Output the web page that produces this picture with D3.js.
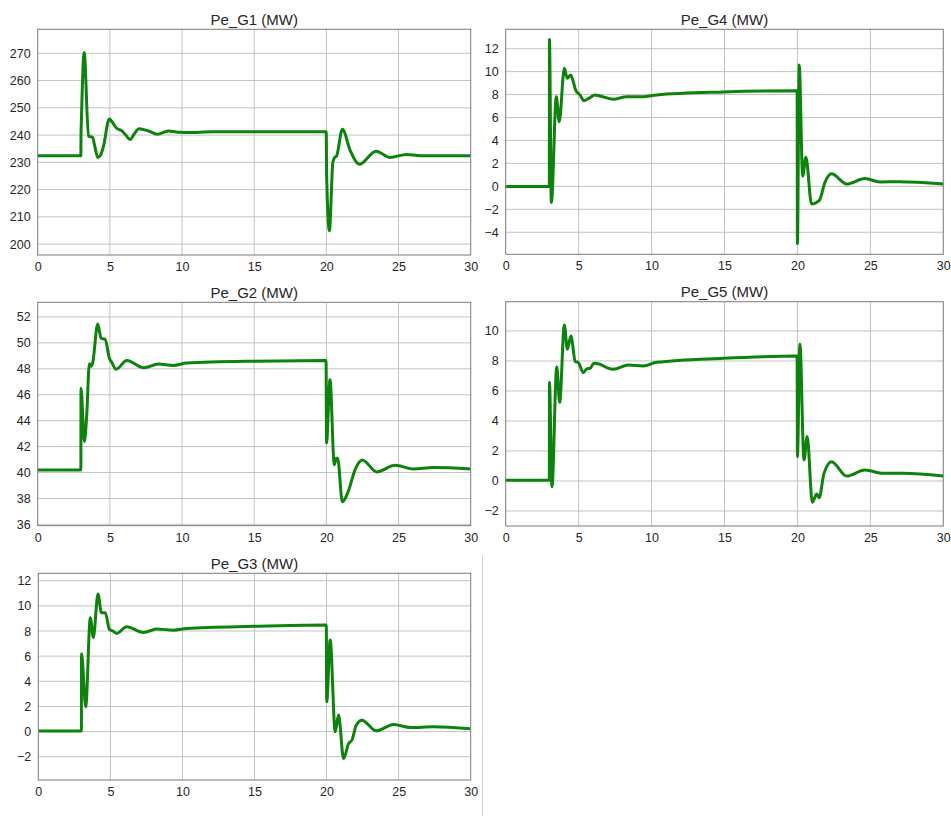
<!DOCTYPE html>
<html>
<head>
<meta charset="utf-8">
<script src="https://cdn.jsdelivr.net/npm/d3@7/dist/d3.min.js"></script>
<style>
  html, body { margin: 0; padding: 0; background: #ffffff; }
  svg { display: block; }
  text { font-family: "Liberation Sans", Arial, Helvetica, sans-serif; fill: #262626; }
</style>
</head>
<body>
<svg id="fig" width="951" height="816"></svg>
<script>
// Generator electrical power traces (MW) over a 30 s simulation
const titles = ["Pe_G1 (MW)", "Pe_G4 (MW)", "Pe_G2 (MW)", "Pe_G5 (MW)", "Pe_G3 (MW)"];
const xTicks = [0, 5, 10, 15, 20, 25, 30];

const tG1 = [0, 2.99, 3.0, 3.02, 3.22, 3.52, 3.8, 3.95, 4.16, 4.35, 4.55, 4.96, 5.2, 5.47, 5.82, 6.1, 6.4, 6.7, 7.02, 7.67, 8.29, 9.05, 9.86, 10.5, 12, 15, 19.99, 20.02, 20.21, 20.45, 20.55, 20.72, 21.11, 21.64, 22.29, 23.44, 24.41, 25.57, 26.5, 30];
const pG1 = [232.4, 232.4, 240, 244, 270.3, 239.6, 239.2, 236, 231.8, 232.6, 235.7, 245.9, 244.5, 242.5, 241.6, 240, 238.4, 240.5, 242.3, 241.5, 240.3, 241.5, 241.0, 240.9, 241.2, 241.2, 241.2, 225, 204.9, 230, 231.5, 232.5, 242.1, 234.5, 229.3, 234.1, 231.8, 232.9, 232.4, 232.4];
const yTicksG1 = [200, 210, 220, 230, 240, 250, 260, 270];

const tG4 = [0, 2.99, 3.0, 3.13, 3.47, 3.67, 4.02, 4.22, 4.45, 4.82, 5.09, 5.37, 5.78, 6.12, 6.46, 7.38, 8.29, 9.43, 10.35, 14.92, 19.98, 20.0, 20.12, 20.36, 20.58, 20.97, 21.49, 21.9, 22.34, 23.37, 24.63, 25.65, 27, 30];
const pG4 = [0, 0, 12.8, -1.41, 7.82, 5.64, 10.29, 9.42, 9.7, 8.34, 7.97, 7.47, 7.73, 7.97, 7.88, 7.59, 7.82, 7.82, 7.97, 8.23, 8.33, -5.0, 10.58, 0.91, 2.54, -1.53, -1.24, 0.4, 1.09, 0.21, 0.68, 0.39, 0.4, 0.21];
const yTicksG4 = [-4, -2, 0, 2, 4, 6, 8, 10, 12];

const tG2 = [0, 2.99, 3.0, 3.23, 3.4, 3.58, 3.7, 3.8, 4.16, 4.39, 4.67, 4.97, 5.13, 5.43, 6.17, 7.37, 8.36, 9.4, 10.32, 14.94, 19.98, 20.01, 20.25, 20.55, 20.68, 20.78, 21.11, 21.52, 21.99, 22.49, 23.49, 24.76, 26.03, 27.4, 30];
const pG2 = [40.2, 40.2, 46.5, 42.4, 44.5, 48.4, 48.2, 48.4, 51.46, 50.36, 50.28, 48.8, 48.5, 47.97, 48.64, 48.08, 48.38, 48.26, 48.44, 48.59, 48.64, 42.28, 47.15, 40.6, 41.1, 41.1, 37.74, 38.56, 40.23, 40.97, 40.05, 40.56, 40.28, 40.38, 40.28];
const yTicksG2 = [36, 38, 40, 42, 44, 46, 48, 50, 52];

const tG5 = [0, 2.99, 3.0, 3.17, 3.5, 3.7, 4.02, 4.23, 4.47, 4.77, 4.98, 5.32, 5.55, 5.78, 6.05, 6.46, 6.92, 7.38, 8.41, 9.43, 10.35, 14.92, 19.98, 20.0, 20.17, 20.45, 20.67, 21.02, 21.32, 21.49, 21.82, 22.34, 23.37, 24.63, 25.9, 27.25, 30];
const pG5 = [0.05, 0.05, 6.58, -0.38, 7.62, 5.24, 10.4, 8.78, 9.67, 7.96, 7.89, 7.22, 7.47, 7.51, 7.84, 7.78, 7.56, 7.44, 7.73, 7.67, 7.91, 8.18, 8.33, 1.62, 9.13, 1.4, 2.96, -1.42, -0.87, -1.11, 0.51, 1.29, 0.33, 0.73, 0.51, 0.51, 0.33];
const yTicksG5 = [-2, 0, 2, 4, 6, 8, 10];

const tG3 = [0, 2.99, 3.0, 3.29, 3.61, 3.82, 4.14, 4.38, 4.65, 4.93, 5.14, 5.44, 6.13, 7.29, 8.22, 9.38, 10.3, 14.93, 19.98, 20.01, 20.25, 20.6, 20.83, 21.18, 21.53, 21.76, 22.06, 22.45, 23.45, 24.65, 25.81, 27.43, 30];
const pG3 = [0.05, 0.05, 6.2, 1.97, 9.06, 7.49, 10.94, 9.45, 9.45, 8.13, 8.02, 7.81, 8.34, 7.89, 8.15, 8.07, 8.2, 8.37, 8.47, 2.37, 7.28, -0.02, 1.31, -2.14, -0.94, -0.68, 0.51, 0.91, 0.06, 0.57, 0.33, 0.38, 0.22];
const yTicksG3 = [-2, 0, 2, 4, 6, 8, 10, 12];

// Axes boxes (pixel frame) and y extents
const panels = [
  { title: titles[0], t: tG1, p: pG1, yTicks: yTicksG1, yDom: [196, 278.8], box: [37.7, 29.3, 470.7, 255] },
  { title: titles[1], t: tG4, p: pG4, yTicks: yTicksG4, yDom: [-5.92, 13.69], box: [505.7, 29.3, 943.3, 254.3] },
  { title: titles[2], t: tG2, p: pG2, yTicks: yTicksG2, yDom: [35.9, 53.13], box: [37.7, 302.3, 470.7, 525.7] },
  { title: titles[3], t: tG5, p: pG5, yTicks: yTicksG5, yDom: [-3, 11.95], box: [505.7, 301.7, 943.3, 526] },
  { title: titles[4], t: tG3, p: pG3, yTicks: yTicksG3, yDom: [-3.85, 12.59], box: [38.3, 573.3, 470.7, 780] }
];

const svg = d3.select("#fig");

// Edge of the unused sixth tile
svg.append("line")
  .attr("x1", 482.5).attr("x2", 482.5).attr("y1", 555).attr("y2", 816)
  .attr("stroke", "#d6d6d6").attr("stroke-width", 1);

panels.forEach((pn, i) => {
  const [x0, y0, x1, y1] = pn.box;
  const x = d3.scaleLinear().domain([0, 30]).range([x0, x1]);
  const y = d3.scaleLinear().domain(pn.yDom).range([y1, y0]);
  const g = svg.append("g");

  // grid
  g.append("g").selectAll("line").data(pn.yTicks).join("line")
    .attr("x1", x0).attr("x2", x1)
    .attr("y1", d => y(d)).attr("y2", d => y(d))
    .attr("stroke", "#c2c2c2").attr("stroke-width", 1);
  g.append("g").selectAll("line").data(xTicks.slice(1, -1)).join("line")
    .attr("x1", d => x(d)).attr("x2", d => x(d))
    .attr("y1", y0).attr("y2", y1)
    .attr("stroke", "#c2c2c2").attr("stroke-width", 1);

  // axes (labels only; frame drawn below)
  const ax = g.append("g").attr("transform", `translate(0,${y1})`)
    .call(d3.axisBottom(x).tickValues(xTicks).tickSize(0).tickPadding(7));
  const ay = g.append("g").attr("transform", `translate(${x0},0)`)
    .call(d3.axisLeft(y).tickValues(pn.yTicks).tickSize(0).tickPadding(7));
  [ax, ay].forEach(a => {
    a.select(".domain").remove();
    a.selectAll("text").attr("font-size", 12.5).attr("fill", "#262626")
      .attr("font-family", "'Liberation Sans', Arial, sans-serif");
  });

  // clipped trace
  const cid = "clip" + i;
  svg.append("clipPath").attr("id", cid).append("rect")
    .attr("x", x0).attr("y", y0).attr("width", x1 - x0).attr("height", y1 - y0);
  const pts = pn.t.map((tv, k) => [tv, pn.p[k]]);
  const line = d3.line().x(d => x(d[0])).y(d => y(d[1])).curve(d3.curveMonotoneX);
  g.append("path").datum(pts)
    .attr("clip-path", `url(#${cid})`)
    .attr("d", line)
    .attr("fill", "none")
    .attr("stroke", "#0d820d")
    .attr("stroke-width", 3)
    .attr("stroke-linejoin", "round");

  // frame
  g.append("rect")
    .attr("x", x0).attr("y", y0).attr("width", x1 - x0).attr("height", y1 - y0)
    .attr("fill", "none").attr("stroke", "#7a7a7a").attr("stroke-width", 1);

  // title
  g.append("text")
    .attr("x", (x0 + x1) / 2).attr("y", y0 - 4.5)
    .attr("text-anchor", "middle")
    .attr("font-size", 15)
    .text(pn.title);
});
</script>
</body>
</html>
